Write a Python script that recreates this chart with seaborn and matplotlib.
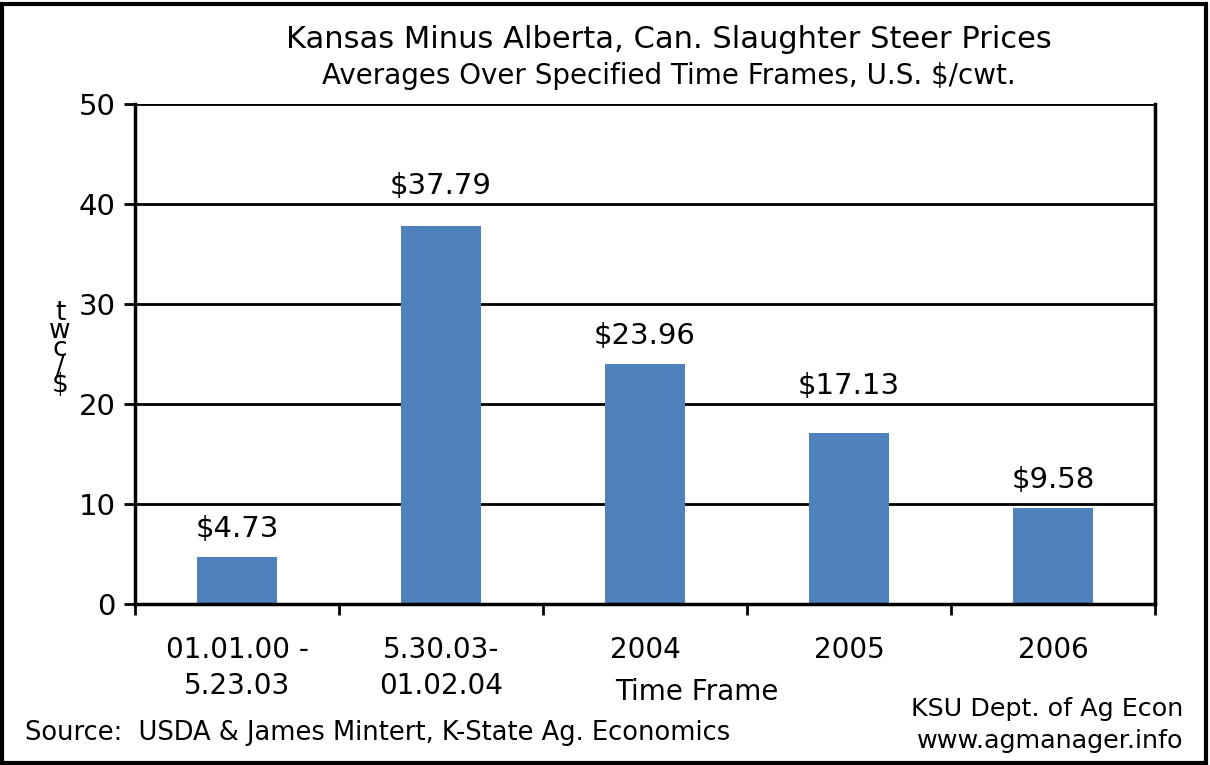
import matplotlib
matplotlib.use("Agg")
import matplotlib.pyplot as plt
import seaborn as sns
import pandas as pd
from matplotlib.patches import Rectangle

categories = ["01.01.00 -\n5.23.03", "5.30.03-\n01.02.04", "2004", "2005", "2006"]
values = [4.73, 37.79, 23.96, 17.13, 9.58]
value_labels = ["$4.73", "$37.79", "$23.96", "$17.13", "$9.58"]
yticks = [0, 10, 20, 30, 40, 50]

sns.set_theme(style="white")
plt.rcParams["font.family"] = ["DejaVu Sans"]
plt.rcParams["text.color"] = "black"
plt.rcParams["xtick.color"] = "black"
plt.rcParams["ytick.color"] = "black"

W, H = 1210, 765
fig = plt.figure(figsize=(W / 100, H / 100), dpi=100)
ax = fig.add_axes([135 / W, 1 - 604 / H, 1020 / W, 500 / H])

df = pd.DataFrame({"cat": categories, "val": values})
sns.barplot(data=df, x="cat", y="val", color="#4F81BD", saturation=1, width=0.39,
            linewidth=0, edgecolor="none", ax=ax, zorder=3)

ax.set_ylim(0, 50)
ax.set_xlim(-0.5, 4.5)
ax.set_yticks(yticks)
ax.set_yticklabels([str(t) for t in yticks], fontsize=21)
for y in yticks[1:]:
    ax.axhline(y, color="black", lw=2, zorder=1)

ax.set_xticks([i + 0.5 for i in range(-1, 5)])
ax.set_xticklabels([])
ax.set_xticks(range(5), minor=True)
ax.set_xticklabels(categories, minor=True, fontsize=20, linespacing=1.35)
ax.tick_params(axis="x", which="minor", length=0, pad=23)
ax.tick_params(axis="x", which="major", direction="out", length=8, width=2, color="black", bottom=True)
ax.tick_params(axis="y", direction="out", length=8, width=2, color="black", left=True, pad=6)

for side in ["left", "bottom", "right"]:
    ax.spines[side].set_visible(True)
    ax.spines[side].set_color("black")
    ax.spines[side].set_linewidth(2.5)
    ax.spines[side].set_zorder(4)
ax.spines["top"].set_visible(False)

ax.set_xlabel("")
ax.set_ylabel("")

# value labels: placed above bar, nudged above a gridline if they would overlap it
for i, (v, lab) in enumerate(zip(values, value_labels)):
    c = v + 2.8
    for g in yticks[1:]:
        if c - 1.1 <= g <= c + 1.1:
            c = g + 1.8
    ax.text(i, c, lab, ha="center", va="center", fontsize=21, zorder=5)

fig.text(669 / W, 1 - 40 / H, "Kansas Minus Alberta, Can. Slaughter Steer Prices",
         ha="center", va="center", fontsize=22)
fig.text(669 / W, 1 - 76 / H, "Averages Over Specified Time Frames, U.S. $/cwt.",
         ha="center", va="center", fontsize=20)
fig.text(697 / W, 1 - 692 / H, "Time Frame", ha="center", va="center", fontsize=20)
fig.text(25 / W, 1 - 733 / H, "Source:  USDA & James Mintert, K-State Ag. Economics",
         ha="left", va="center", fontsize=18.5)
fig.text(1183 / W, 1 - 725 / H, "KSU Dept. of Ag Econ\nwww.agmanager.info",
         ha="right", va="center", fontsize=18.3, linespacing=1.4)
fig.text(60 / W, 1 - 349 / H, "t\nw\nc\n/\n$", ha="center", va="center",
         fontsize=19, linespacing=0.6)

fig.patches.append(Rectangle((2 / W, 2 / H), (W - 6) / W, (H - 6) / H,
                             transform=fig.transFigure, fill=False,
                             edgecolor="black", lw=3))

fig.savefig("out.png", dpi=100, facecolor="white")
